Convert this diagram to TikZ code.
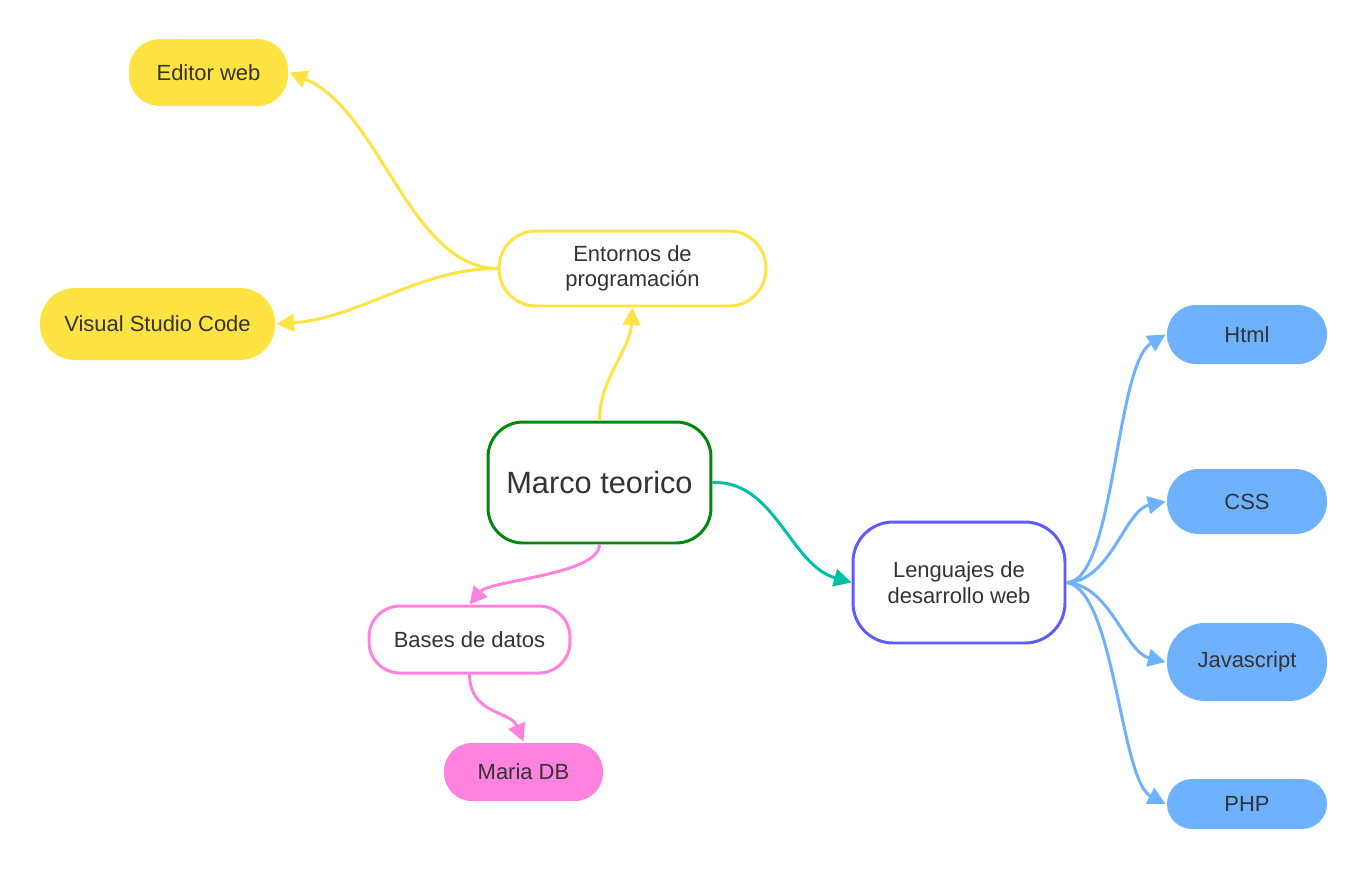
\documentclass[tikz,border=0pt]{standalone}
\usepackage{fontspec}
\setmainfont{Liberation Sans}
\usetikzlibrary{arrows.meta}

\definecolor{txtgray}{HTML}{333333}
\definecolor{myyellow}{HTML}{FFE342}
\definecolor{mypink}{HTML}{FF82DE}
\definecolor{myblue}{HTML}{6DB1FF}
\definecolor{mygreen}{HTML}{00880E}
\definecolor{mypurple}{HTML}{5F5CFF}
\definecolor{myteal}{HTML}{00BFA5}

\begin{document}
\begin{tikzpicture}[x=0.02cm,y=-0.02cm,
  box/.style={rectangle,align=center,text=txtgray,inner sep=0pt,line width=1.7pt,
    font=\fontsize{12.5}{14.5}\selectfont},
  link/.style={line width=1.7pt,-{Triangle[length=10pt,width=10pt]}}]
\useasboundingbox (0,0) rectangle (1368,870);

% main topic
\node [box,draw=mygreen,fill=white,minimum width=4.46cm,minimum height=2.42cm,rounded corners=0.7cm,
  font=\fontsize{17.5}{20}\selectfont] (marco) at (599.5,482.5) {Marco teorico};

% programming environments
\node [box,draw=myyellow,fill=white,minimum width=5.34cm,minimum height=1.5cm,rounded corners=0.74cm] (ent) at (632.5,268.5) {Entornos de\\programación};
\node [box,fill=myyellow,minimum width=3.18cm,minimum height=1.34cm,rounded corners=0.62cm] (editor) at (208.5,72.5) {Editor web};
\node [box,fill=myyellow,minimum width=4.7cm,minimum height=1.44cm,rounded corners=0.7cm] (vsc) at (157.5,324) {Visual Studio Code};

% databases
\node [box,draw=mypink,fill=white,minimum width=4.02cm,minimum height=1.34cm,rounded corners=0.62cm] (bases) at (469.5,639.5) {Bases de datos};
\node [box,fill=mypink,minimum width=3.18cm,minimum height=1.16cm,rounded corners=0.56cm] (maria) at (523.5,772) {Maria DB};

% languages
\node [box,draw=mypurple,fill=white,minimum width=4.24cm,minimum height=2.42cm,rounded corners=0.8cm] (len) at (959,582.5) {Lenguajes de\\desarrollo web};
\node [box,fill=myblue,minimum width=3.2cm,minimum height=1.18cm,rounded corners=0.58cm] (html) at (1247,334.5) {Html};
\node [box,fill=myblue,minimum width=3.2cm,minimum height=1.3cm,rounded corners=0.64cm] (css) at (1247,501.5) {CSS};
\node [box,fill=myblue,minimum width=3.2cm,minimum height=1.56cm,rounded corners=0.76cm] (js) at (1247,662) {Javascript};
\node [box,fill=myblue,minimum width=3.2cm,minimum height=1cm,rounded corners=0.5cm] (php) at (1247,804) {PHP};

% connectors
\draw [link,myyellow] (marco.north) .. controls (599,380) and (630,350) .. (ent.south);
\draw [link,myyellow] (ent.west) .. controls (410,268) and (380,110) .. (editor.east);
\draw [link,myyellow] (ent.west) .. controls (420,268) and (360,318) .. (vsc.east);

\draw [link,myteal] (marco.east) .. controls (775,480) and (790,565) .. (len.west);

\draw [link,mypink] (marco.south) .. controls (599,575) and (490,580) .. (bases.north);
\draw [link,mypink] (bases.south) .. controls (470,715) and (510,710) .. (maria.north);

\draw [link,myblue] (len.east) .. controls (1115,582) and (1115,365) .. (html.west);
\draw [link,myblue] (len.east) .. controls (1110,582) and (1125,510) .. (css.west);
\draw [link,myblue] (len.east) .. controls (1110,585) and (1125,652) .. (js.west);
\draw [link,myblue] (len.east) .. controls (1115,590) and (1120,780) .. (php.west);
\end{tikzpicture}
\end{document}
